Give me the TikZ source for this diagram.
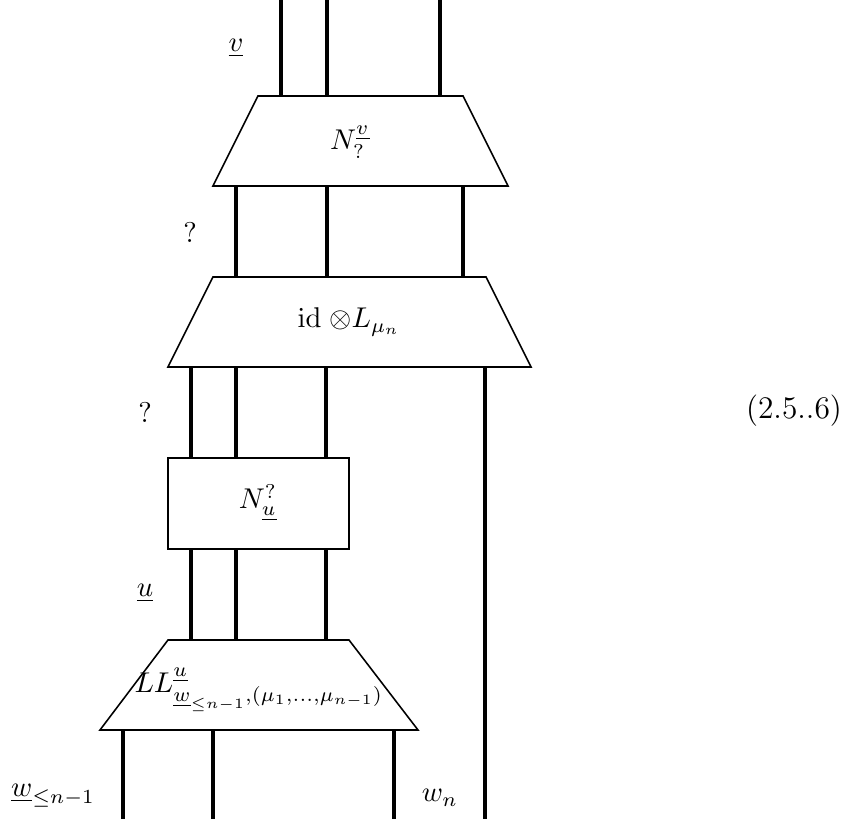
\documentclass[tikz,border=0pt]{standalone}
\begin{document}
\begin{tikzpicture}[x=0.35pt,y=-0.35pt,
  strand/.style={line width=1.45pt},
  boxline/.style={line width=0.55pt, line join=miter},
  lbl/.style={inner sep=0pt}]
\useasboundingbox (0,0) rectangle (848,819);

% corners of the morphisms
\coordinate (T1a) at (258,96);  \coordinate (T1b) at (463,96);
\coordinate (T1c) at (508,186); \coordinate (T1d) at (213,186);
\coordinate (T2a) at (213,277); \coordinate (T2b) at (486,277);
\coordinate (T2c) at (531,367); \coordinate (T2d) at (168,367);
\coordinate (B1a) at (168,458); \coordinate (B1c) at (349,549);
\coordinate (T3a) at (168,640); \coordinate (T3b) at (349,640);
\coordinate (T3c) at (418,730); \coordinate (T3d) at (100,730);

\draw[boxline] (T1a) -- (T1b) -- (T1c) -- (T1d) -- cycle;
\draw[boxline] (T2a) -- (T2b) -- (T2c) -- (T2d) -- cycle;
\draw[boxline] (B1a) rectangle (B1c);
\draw[boxline] (T3a) -- (T3b) -- (T3c) -- (T3d) -- cycle;

% labels inside the morphisms
\node[lbl] (m1) at (350,142) {$N^{\underline{v}}_{?}$};
\node[lbl] (m2) at (349,322) {$\mathrm{id}\;{\otimes}L_{\mu_n}$};
\node[lbl] (m3) at (258,503) {$N^{?}_{\underline{u}}$};
\node[lbl, anchor=west] (m4) at (134,690) {$LL^{\underline{u}}_{\underline{w}_{\leq n-1},(\mu_1,\dots,\mu_{n-1})}$};

% strand end points
\foreach \x/\n in {281/a,327/b,440/c} {
  \coordinate (s0\n) at (\x,0); \coordinate (e0\n) at (\x,96);
}
\foreach \x/\n in {236/a,327/b,463/c} {
  \coordinate (s1\n) at (\x,186); \coordinate (e1\n) at (\x,277);
}
\foreach \x/\n in {191/a,236/b,326/c} {
  \coordinate (s2\n) at (\x,367); \coordinate (e2\n) at (\x,458);
  \coordinate (s3\n) at (\x,549); \coordinate (e3\n) at (\x,640);
}
\foreach \x/\n in {123/a,213/b,394/c} {
  \coordinate (s4\n) at (\x,730); \coordinate (e4\n) at (\x,819);
}
\coordinate (wa) at (485,367); \coordinate (wb) at (485,819);

\foreach \l in {0,1,2,3,4} {
  \foreach \n in {a,b,c} {
    \draw[strand] (s\l\n) -- (e\l\n);
  }
}
\draw[strand] (wa) -- (wb);

% wire labels
\node[lbl] (lv) at (236,48) {$\underline{v}$};
\node[lbl] (lq1) at (190,233) {$?$};
\node[lbl] (lq2) at (145,413) {$?$};
\node[lbl] (lu) at (145,593) {$\underline{u}$};
\node[lbl] (lw) at (53,796) {$\underline{w}_{\leq n-1}$};
\node[lbl] (lwn) at (440,798) {$w_n$};
\node[lbl] (eq) at (794,411) {\fontsize{11}{13.6}\selectfont (2.5..6)};
\end{tikzpicture}
\end{document}
